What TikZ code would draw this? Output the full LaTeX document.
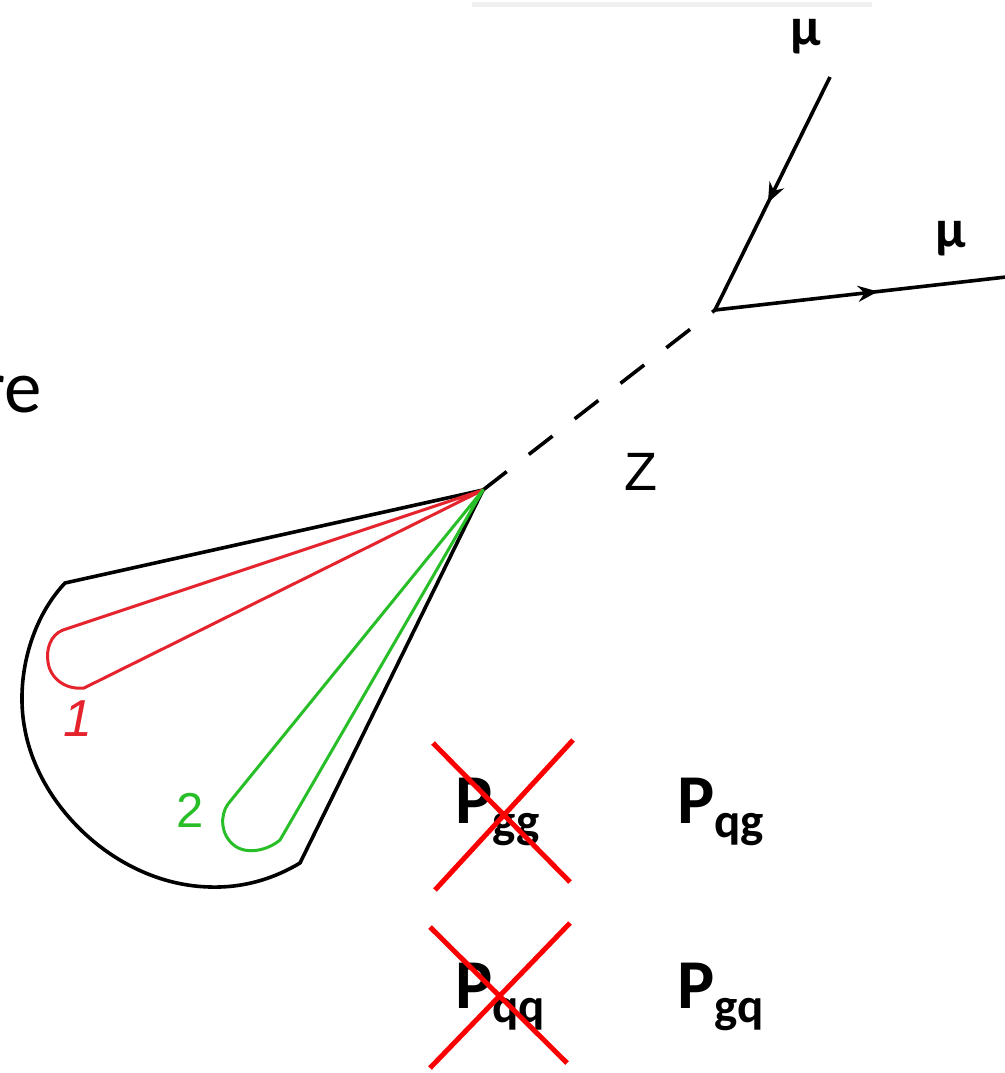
\documentclass[tikz,border=0pt]{standalone}
\usepackage{fontspec}
\setmainfont{Carlito}
\newfontfamily\arialfont{Liberation Sans}
\usetikzlibrary{arrows.meta,decorations.markings}
\definecolor{loopred}{RGB}{228,35,45}
\definecolor{loopgreen}{RGB}{40,190,40}
\definecolor{xred}{RGB}{250,0,0}
\tikzset{
  edge/.style={line width=3.6pt, line join=round},
  fermion/.style={edge, postaction={decorate}, decoration={markings,
     mark=at position #1 with {\arrow{Stealth[length=20pt,width=16pt]}}}},
  boson/.style={line width=3.6pt, dash pattern=on 30pt off 28pt},
  loopline/.style={line width=3pt, line join=round},
  cross/.style={xred, line width=5pt},
  mulabel/.style={inner sep=0pt, font=\fontsize{54}{54}\selectfont\bfseries},
  plabel/.style={inner sep=0pt, anchor=base west, font=\bfseries}
}
\newcommand{\Psplit}[1]{{\fontsize{70}{70}\selectfont P}{\fontsize{49}{49}\selectfont\raisebox{-14pt}{#1}}}
\begin{document}
\begin{tikzpicture}[x=1pt,y=-1pt]
\useasboundingbox (0,0) rectangle (1004,1073);
% faint top line
\draw[black!6, line width=5pt] (472,5) -- (872,5);
% partial word
\node[inner sep=0pt, anchor=base east, font=\fontsize{75}{75}\selectfont] (re) at (42,412) {re};
% vertices
\coordinate (v) at (715,310);
\coordinate (mutop) at (830,77);
\coordinate (muright) at (1006,277);
\coordinate (cone) at (483,490);
% muons
\draw[fermion=0.54] (mutop) -- (v);
\draw[fermion=0.56] (v) -- (muright);
\node[mulabel] (mu1) at (806,37) {μ};
\node[mulabel] (mu2) at (951,239) {μ};
% Z boson
\draw[boson] (cone) -- (v);
\node[inner sep=0pt, font=\arialfont\fontsize{54}{54}\selectfont] (Z) at (641,472) {Z};
% jet cone
\draw[edge] (cone) -- (65,583)
  .. controls (30,620) and (15,680) .. (25,730)
  .. controls (40,810) and (120,885) .. (210,887)
  .. controls (245,888) and (275,878) .. (300,863) -- cycle;
% red loop 1
\draw[loopline, loopred] (cone) -- (63,630)
  .. controls (50,635) and (46,650) .. (48,662)
  .. controls (50,678) and (65,690) .. (84,688) -- cycle;
\node[inner sep=0pt, text=loopred, font=\arialfont\itshape\fontsize{52}{52}\selectfont] (one) at (78,719) {1};
% green loop 2
\draw[loopline, loopgreen] (cone) -- (228,804)
  .. controls (220,815) and (220,835) .. (235,846)
  .. controls (248,855) and (268,850) .. (280,840) -- cycle;
\node[inner sep=0pt, text=loopgreen, font=\arialfont\fontsize{49}{49}\selectfont] (two) at (190,810) {2};
% splitting functions
\node[plabel] (pgg) at (455,823) {\Psplit{gg}};
\node[plabel] (pqg) at (677,823) {\Psplit{qg}};
\node[plabel] (pqq) at (455,1008) {\Psplit{qq}};
\node[plabel] (pgq) at (677,1008) {\Psplit{gq}};
% crosses
\draw[cross] (433,743) -- (570,882);
\draw[cross] (573,740) -- (435,890);
\draw[cross] (430,927) -- (567,1063);
\draw[cross] (570,923) -- (430,1068);
\end{tikzpicture}
\end{document}
